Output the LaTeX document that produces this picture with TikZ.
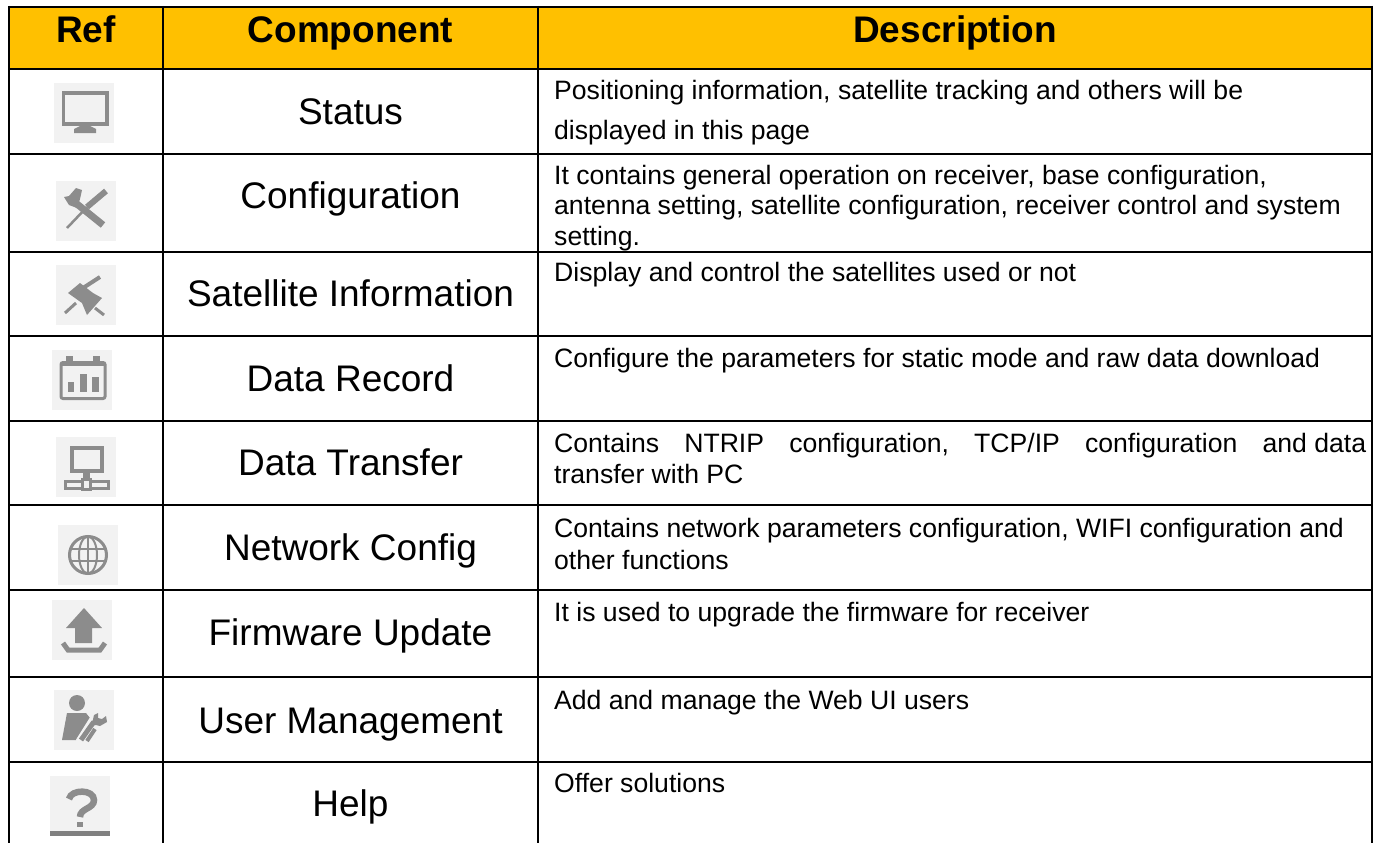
\documentclass[tikz,border=0pt]{standalone}
\usepackage{fontspec}
\setmainfont{Liberation Sans}
\tikzset{x=1pt,y=-1pt,
 grid/.style={line width=2.1pt,black},
 hdr/.style={font=\fontsize{37}{40}\bfseries\selectfont,anchor=base,inner sep=0pt},
 comp/.style={font=\fontsize{37}{40}\selectfont,anchor=base,inner sep=0pt},
 desc/.style={font=\fontsize{26.6}{30.5}\selectfont,anchor=north west,inner sep=0pt,align=left,execute at begin node=\strut},
 iconbg/.style={fill=black!5,draw=none,minimum size=60pt,inner sep=0pt},
 gline/.style={draw=black!45},
 gfill/.style={fill=black!45,draw=none}}
\definecolor{hdrc}{HTML}{FFC000}
\begin{document}
\begin{tikzpicture}
\useasboundingbox (0,0) rectangle (1379,843);
\fill[white] (0,0) rectangle (1379,843);
\fill[hdrc] (9,7) rectangle (1372,68.7);
% icons
\node[iconbg] (i1) at (84,113) {};
\node[iconbg] (i2) at (86,211) {};
\node[iconbg] (i3) at (86,295) {};
\node[iconbg] (i4) at (82,379.5) {};
\node[iconbg] (i5) at (86,467) {};
\node[iconbg] (i6) at (88,555) {};
\node[iconbg] (i7) at (82,630) {};
\node[iconbg] (i8) at (84,720) {};
\node[iconbg] (i9) at (80,806) {};
% grid
\foreach \y in {7,68.7,154,252,336,421,505,590,677,761.7}{\draw[grid] (8,\y) -- (1373,\y);}
\foreach \x in {9,163,538,1372}{\draw[grid] (\x,6) -- (\x,843);}
% header
\node[hdr] (h1) at (86,42.7) {Ref};
\node[hdr] (h2) at (350.5,42.7) {Component};
\node[hdr] (h3) at (955,42.7) {Description};
% components
\node[comp] (c1) at (350.5,124) {Status};
\node[comp] (c2) at (350.5,208.5) {Configuration};
\node[comp] (c3) at (350.5,306.7) {Satellite Information};
\node[comp] (c4) at (350.5,391.7) {Data Record};
\node[comp] (c5) at (350.5,475) {Data Transfer};
\node[comp] (c6) at (350.5,560) {Network Config};
\node[comp] (c7) at (350.5,645) {Firmware Update};
\node[comp] (c8) at (350.5,733.7) {User Management};
\node[comp] (c9) at (350.5,816.7) {Help};
% descriptions
\node[desc] (d1) at (554,80.35) {Positioning information, satellite tracking and others will be\\[9pt]displayed in this page};
\node[desc] (d2) at (554,164.95) {It contains general operation on receiver, base configuration,\\antenna setting, satellite configuration, receiver control and system\\setting.};
\node[desc] (d3) at (554,260.35) {Display and control the satellites used or not};
\node[desc] (d4) at (554,345.65) {Configure the parameters for static mode and raw data download};
\node[desc] (d5) at (554,432.65) {\makebox[812pt][s]{Contains\hfill NTRIP\hfill configuration,\hfill TCP/IP\hfill configuration\hfill and data}\\[1.2pt]transfer with PC};
\node[desc] (d6) at (554,518.35) {Contains network parameters configuration, WIFI configuration and\\[1.2pt]other functions};
\node[desc] (d7) at (554,599.65) {It is used to upgrade the firmware for receiver};
\node[desc] (d8) at (554,688.35) {Add and manage the Web UI users};
\node[desc] (d9) at (554,770.65) {Offer solutions};
% icon glyphs
\begin{scope}[shift={(i1.center)}]
 \fill[black!45] (-22,-22) rectangle (25,13);
 \fill[black!5] (-19,-18) rectangle (21,9);
 \fill[black!45] (-4,13) -- (6,13) -- (12,16) -- (12,20) -- (-10,20) -- (-10,16) -- cycle;
\end{scope}
\begin{scope}[shift={(i2.center)}]
 \draw[gline,line width=7pt] (-14,-11) -- (17,14);
 \draw[gline,line width=6pt] (20,-20) -- (1,-4);
 \draw[gline,line width=2.5pt] (1,-4) -- (-19,17);
 \fill[black!45] (-22,-14) -- (-17,-15) -- (-10,-23) -- (-4,-21) -- (-6,-12) -- (-9,-3) -- (-17,-6) -- cycle;
\end{scope}
\begin{scope}[shift={(i3.center)}]
 \fill[black!45] (-6,-12) -- (7,-2) -- (16,3) -- (1,20) -- (-4,8) -- (-18,-2) -- cycle;
 \draw[gline,line width=4pt] (14,-18) -- (-3,-7);
 \draw[gline,line width=3pt] (-21,18) -- (-10,8);
 \draw[gline,line width=3pt] (18,20) -- (9,13);
\end{scope}
\begin{scope}[shift={(i4.center)}]
 \draw[gline,line width=3pt,rounded corners=2pt] (-21,-17) rectangle (23,19);
 \fill[black!45] (-21,-18) rectangle (23,-14);
 \fill[black!45] (-16,-24) rectangle (-9,-15);
 \fill[black!45] (11,-24) rectangle (18,-15);
 \fill[black!45] (-14,2) rectangle (-8,12);
 \fill[black!45] (-2,-6) rectangle (5,12);
 \fill[black!45] (10,-3) rectangle (17,12);
\end{scope}
\begin{scope}[shift={(i5.center)}]
 \draw[gline,line width=4pt] (-14,-19) rectangle (16,4);
 \fill[black!45] (-3,6) rectangle (4,13);
 \draw[gline,line width=3pt] (-20.5,14.5) rectangle (22.5,21.5);
 \draw[gline,line width=3pt,fill=black!5] (-3.5,12.5) rectangle (4.5,22.5);
\end{scope}
\begin{scope}[shift={(i6.center)}]
 \draw[gline,line width=3pt] (0,0) circle (18.5);
 \draw[gline,line width=2pt] (0,0) ellipse (9 and 18.5);
 \draw[gline,line width=2pt] (-18,-6) -- (18,-6) (-18,6) -- (18,6) (0,-18) -- (0,18);
\end{scope}
\begin{scope}[shift={(i7.center)}]
 \fill[black!45] (2,-22) -- (20,-2) -- (10,-2) -- (10,13) -- (-7,13) -- (-7,-2) -- (-16,-2) -- cycle;
 \draw[gline,line width=5pt] (-19,13) -- (-14,20) -- (18,20) -- (23,13);
\end{scope}
\begin{scope}[shift={(i8.center)}]
 \fill[black!45] (-7,-17) circle (8);
 \fill[black!45] (-17,-7) -- (2,-7) -- (6,-2) -- (-8,20) -- (-22,20) -- cycle;
 \draw[black!5,line width=2pt] (-7,20) -- (8,-4);
 \draw[gline,line width=5pt] (-3,20) -- (9,3) -- (14,2);
 \draw[gline,line width=4pt] (3,21) -- (11,9);
 \fill[black!45] (10,-5) -- (14,-7) -- (14,-2) -- (18,-1) -- (22,-4) -- (23,2) -- (16,6) -- (8,4) -- cycle;
\end{scope}
\begin{scope}[shift={(i9.center)}]
 \draw[gline,line width=6.5pt] (-11,-7) .. controls (-9,-17) and (14,-17) .. (14,-6) .. controls (14,3) and (0,2) .. (0,11);
 \fill[black!45] (-3,16) rectangle (3,21);
 \fill[black!50] (-30,25) rectangle (30,30);
\end{scope}
\end{tikzpicture}
\end{document}
